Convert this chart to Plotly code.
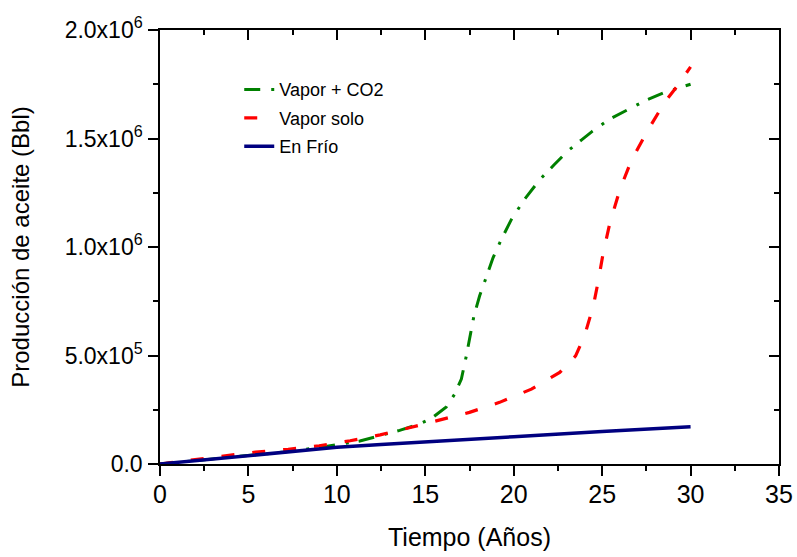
import plotly.graph_objects as go

# Data
x_co2 = [0, 2, 4.56, 7, 9.1, 11.3, 13.55, 14.67, 15.34, 16.19, 16.66, 17.04, 17.32, 17.51,
         17.75, 18.07, 18.41, 18.83, 19.30, 19.87, 20.57, 21.47, 22.3, 23.08, 23.84, 24.44,
         25.35, 26.44, 27.52, 28.65, 30.0]
y_co2 = [0, 15000, 34000, 55000, 77000, 106000, 155000, 184000, 210000, 263000, 322000,
         391000, 498000, 575000, 682000, 774000, 857000, 950000, 1035000, 1127000, 1215000,
         1310000, 1380000, 1444000, 1494000, 1533000, 1586000, 1632000, 1678000, 1716000,
         1750000]

x_vapor = [0, 2, 3.7, 5.4, 7.25, 9, 10.75, 12.45, 14.1, 15.8, 17.5, 19.2, 21.0, 22.6, 23.5,
           24.0, 24.3, 24.5, 24.8, 25.06, 25.44, 26.0, 26.67, 27.6, 28.56, 29.22, 30.0]
y_vapor = [0, 20000, 40000, 55000, 68000, 84000, 107000, 134000, 167000, 204000, 238000,
           284000, 345000, 422000, 498000, 590000, 667000, 728000, 851000, 973000, 1111000,
           1264000, 1402000, 1540000, 1670000, 1739000, 1830000]

x_frio = [0, 2.5, 5, 7.5, 10, 12.5, 15, 20, 25, 30]
y_frio = [0, 20000, 39000, 59000, 77000, 90000, 101000, 126000, 150000, 172000]

names = ["Vapor + CO2", "Vapor solo", "En Frío"]

x_ticks = [0, 5, 10, 15, 20, 25, 30, 35]
y_tickvals = [0, 5e5, 1e6, 1.5e6, 2e6]
y_ticktext = ["0.0", "5.0x10<sup>5</sup>", "1.0x10<sup>6</sup>", "1.5x10<sup>6</sup>",
              "2.0x10<sup>6</sup>"]
y_minor = [2.5e5, 7.5e5, 1.25e6, 1.75e6]
x_minor = [2.5, 7.5, 12.5, 17.5, 22.5, 27.5, 32.5]

FONT = "Arial, Liberation Sans, sans-serif"

fig = go.Figure()
fig.add_trace(go.Scatter(x=x_co2, y=y_co2, mode="lines", name=names[0],
                         line=dict(color="#008000", width=3, dash="16px,11px,3px,10px"),
                         legendgroup="a"))
fig.add_trace(go.Scatter(x=x_vapor, y=y_vapor, mode="lines", name=names[1],
                         line=dict(color="#FF0000", width=3.2, dash="13px,18px"),
                         legendgroup="b"))
fig.add_trace(go.Scatter(x=x_frio, y=y_frio, mode="lines", name=names[2],
                         line=dict(color="#000080", width=3.5),
                         legendgroup="c", xaxis="x2", yaxis="y2"))

axis_common = dict(showline=True, linecolor="black", linewidth=1.5, showgrid=False,
                   zeroline=False, tickcolor="black", tickwidth=1.5, automargin=False)

fig.update_layout(
    width=797, height=557,
    margin=dict(l=160, r=18, t=30, b=93, autoexpand=False),
    paper_bgcolor="white", plot_bgcolor="white",
    font=dict(family=FONT, color="black"),
    showlegend=True,
    legend=dict(x=0.128, y=0.905, xanchor="left", yanchor="top",
                font=dict(size=18, family=FONT), bgcolor="rgba(0,0,0,0)",
                tracegroupgap=2, itemwidth=30),
    xaxis=dict(range=[0, 35], tickmode="array", tickvals=x_ticks,
               ticktext=[str(v) for v in x_ticks], ticks="outside", ticklen=10,
               tickfont=dict(size=25, family=FONT), ticklabelstandoff=-3,
               minor=dict(tickvals=x_minor, ticks="outside", ticklen=5,
                          tickcolor="black", tickwidth=1.5),
               title=dict(text="Tiempo (Años)", font=dict(size=25, family=FONT), standoff=22),
               **axis_common),
    yaxis=dict(range=[0, 2e6], tickmode="array", tickvals=y_tickvals, ticktext=y_ticktext,
               ticks="outside", ticklen=10, tickfont=dict(size=23, family=FONT),
               ticklabelstandoff=1,
               minor=dict(tickvals=y_minor, ticks="outside", ticklen=5,
                          tickcolor="black", tickwidth=1.5),
               title=dict(text="Producción de aceite (Bbl)", font=dict(size=24, family=FONT),
                          standoff=28),
               **axis_common),
    xaxis2=dict(range=[0, 35], overlaying="x", side="top", anchor="y2",
                tickmode="array", tickvals=x_ticks, showticklabels=False,
                ticks="inside", ticklen=10,
                minor=dict(tickvals=x_minor, ticks="inside", ticklen=5,
                           tickcolor="black", tickwidth=1.5),
                **axis_common),
    yaxis2=dict(range=[0, 2e6], overlaying="y", side="right", anchor="x2",
                tickmode="array", tickvals=y_tickvals, showticklabels=False,
                ticks="inside", ticklen=10,
                minor=dict(tickvals=y_minor, ticks="inside", ticklen=5,
                           tickcolor="black", tickwidth=1.5),
                **axis_common),
)

fig.write_html("out.html")
